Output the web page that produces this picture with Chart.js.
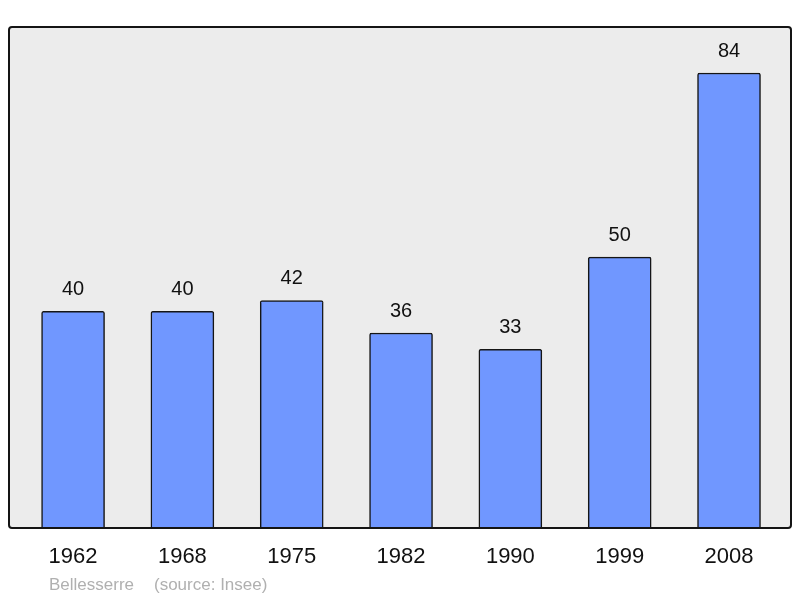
<!DOCTYPE html>
<html>
<head>
<meta charset="utf-8">
<script src="https://cdn.jsdelivr.net/npm/chart.js@4/dist/chart.umd.min.js"></script>
<style>
  html, body { margin: 0; padding: 0; background: #fff; }
  canvas { display: block; }
</style>
</head>
<body>
<canvas id="chart" width="800" height="598"></canvas>
<script>
// data
const years = ["1962", "1968", "1975", "1982", "1990", "1999", "2008"];
const population = [40, 40, 42, 36, 33, 50, 84];
const footer = ["Bellesserre", "(source: Insee)"];

const FONT = "'Liberation Sans', Arial, sans-serif";

// grey panel with dark frame behind the bars
const panelPlugin = {
  id: "panel",
  beforeDraw(chart) {
    const { ctx, chartArea: a } = chart;
    ctx.save();
    ctx.beginPath();
    ctx.roundRect(a.left, a.top, a.right - a.left, a.bottom - a.top, 3);
    ctx.fillStyle = "#ececec";
    ctx.fill();
    ctx.restore();
  },
  afterDatasetsDraw(chart) {
    const { ctx, chartArea: a } = chart;
    ctx.save();
    ctx.beginPath();
    ctx.roundRect(a.left, a.top, a.right - a.left, a.bottom - a.top, 3);
    ctx.lineWidth = 2;
    ctx.strokeStyle = "#141414";
    ctx.stroke();
    // value labels above bars
    ctx.font = "20px " + FONT;
    ctx.fillStyle = "#111";
    ctx.textAlign = "center";
    ctx.textBaseline = "middle";
    chart.getDatasetMeta(0).data.forEach((bar, i) => {
      ctx.fillText(String(population[i]), bar.x, bar.y - 22);
    });
    // footer
    ctx.font = "17px " + FONT;
    ctx.fillStyle = "#b0b0b0";
    ctx.textAlign = "left";
    ctx.fillText(footer[0], 49, 585);
    ctx.fillText(footer[1], 154, 585);
    ctx.restore();
  }
};

new Chart(document.getElementById("chart"), {
  type: "bar",
  data: {
    datasets: [{
      data: population.map((v, i) => ({ x: i, y: v })),
      backgroundColor: "#7097ff",
      borderColor: "#151515",
      borderWidth: 1.5,
      borderRadius: 2,
      borderSkipped: "bottom",
      barThickness: 63
    }]
  },
  options: {
    responsive: false,
    animation: false,
    layout: { padding: { left: 9, right: 9, top: 27, bottom: 0 } },
    plugins: { legend: { display: false }, tooltip: { enabled: false } },
    scales: {
      x: {
        type: "linear",
        offset: false,
        min: -0.586,
        max: 6.567,
        grid: { display: false, drawTicks: false },
        border: { display: false },
        afterBuildTicks(scale) {
          scale.ticks = years.map((_, i) => ({ value: i }));
        },
        afterFit(scale) { scale.height = 70; },
        ticks: {
          padding: 16,
          autoSkip: false,
          maxRotation: 0,
          color: "#111",
          font: { family: FONT, size: 22 },
          callback: (v) => years[v]
        }
      },
      y: {
        display: false,
        min: 0,
        max: 92.5
      }
    }
  },
  plugins: [panelPlugin]
});
</script>
</body>
</html>
